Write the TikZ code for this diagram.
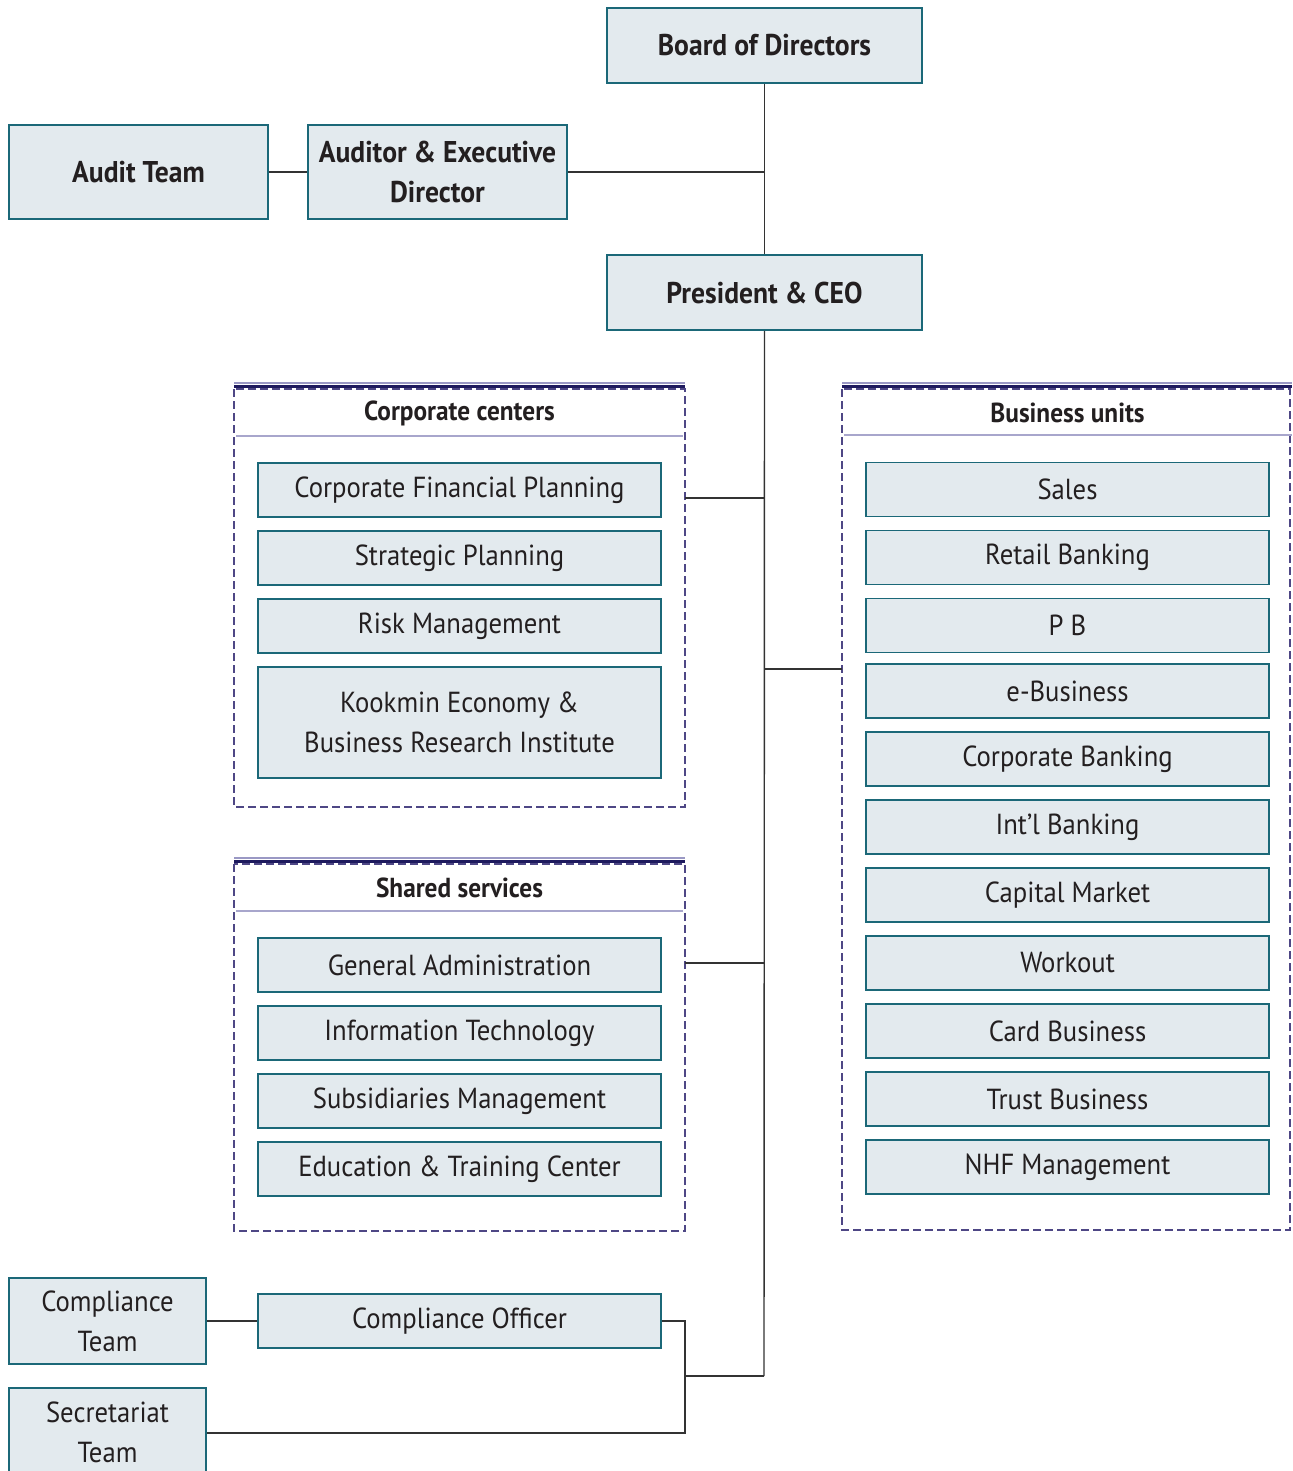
\documentclass[tikz,border=0pt]{standalone}
\usepackage{fontspec}
\setmainfont{PT Sans}[FakeStretch=0.92]
\definecolor{boxfill}{HTML}{E3EAEE}
\definecolor{boxline}{HTML}{1B6878}
\definecolor{dashc}{HTML}{4E4785}
\definecolor{navy}{HTML}{1E1A5E}
\definecolor{lightnavy}{HTML}{9A98C4}
\definecolor{sepc}{HTML}{A8A6CC}
\definecolor{txt}{HTML}{231F20}
\definecolor{conn}{HTML}{333333}
\tikzset{
  box/.style={draw=boxline, fill=boxfill, line width=1.8pt, inner sep=0pt, align=center,
    text=txt, font=\fontsize{29}{40}\selectfont},
  topbox/.style={box, font=\fontsize{30}{40}\selectfont\bfseries},
  item/.style={box, minimum width=403pt, minimum height=54pt},
  grp/.style={draw=dashc, line width=2.4pt, dash pattern=on 8pt off 4pt},
  hdr/.style={text=txt, font=\fontsize{27.5}{30}\selectfont\bfseries, inner sep=0pt},
  conline/.style={draw=conn, line width=1.4pt},
}
\begin{document}
\begin{tikzpicture}[x=1pt,y=-1pt]
\clip (0,0) rectangle (1292,1471);
\useasboundingbox (0,0) rectangle (1292,1471);
\fill[white] (0,0) rectangle (1292,1471);

% top boxes
\node[topbox, minimum width=315pt, minimum height=75pt] (board) at (764.5,45.5) {Board of Directors};
\node[topbox, minimum width=315pt, minimum height=75pt] (pres) at (764.5,292.5) {President \& CEO};
\node[topbox, minimum width=259pt, minimum height=94pt] (audit) at (138.5,172) {Audit Team};
\node[topbox, minimum width=259pt, minimum height=94pt] (auditor) at (437.5,172) {Auditor \& Executive\\Director};

% group frames
\draw[grp] (234,389) rectangle (685,807);
\draw[lightnavy, line width=1.2pt] (234,383) -- (685,383);
\draw[navy, line width=3.6pt] (234,386.5) -- (685,386.5);
\draw[sepc, line width=1.3pt] (236,436) -- (683,436);
\node[hdr] (cchdr) at (459.5,413) {Corporate centers};

\draw[grp] (234,864) rectangle (685,1231);
\draw[lightnavy, line width=1.2pt] (234,858) -- (685,858);
\draw[navy, line width=3.6pt] (234,861.5) -- (685,861.5);
\draw[sepc, line width=1.3pt] (236,911) -- (683,911);
\node[hdr] (sshdr) at (459.5,888) {Shared services};

\draw[grp] (842,389) rectangle (1290,1230);
\draw[lightnavy, line width=1.2pt] (842,383) -- (1292,383);
\draw[navy, line width=3.6pt] (842,386.5) -- (1292,386.5);
\draw[sepc, line width=1.3pt] (844,435) -- (1292,435);
\node[hdr] (buhdr) at (1067.5,413) {Business units};

% corporate centers items
\node[item] (cfp) at (459.5,490) {Corporate Financial Planning};
\node[item] (sp) at (459.5,558) {Strategic Planning};
\node[item] (rm) at (459.5,626) {Risk Management};
\node[item, minimum height=111pt] (keb) at (459.5,722.5) {Kookmin Economy \&\\Business Research Institute};

% shared services items
\node[item] (ga) at (459.5,965) {General Administration};
\node[item] (it) at (459.5,1033) {Information Technology};
\node[item] (sm) at (459.5,1101) {Subsidiaries Management};
\node[item] (etc) at (459.5,1169) {Education \& Training Center};

% business units items
\node[item] (sales) at (1067.5,489.5) {Sales};
\node[item] (retail) at (1067.5,557.5) {Retail Banking};
\node[item] (pb) at (1067.5,625.5) {P B};
\node[item] (eb) at (1067.5,691) {e-Business};
\node[item] (cb) at (1067.5,759) {Corporate Banking};
\node[item] (ib) at (1067.5,827) {Int'l Banking};
\node[item] (cm) at (1067.5,895) {Capital Market};
\node[item] (wo) at (1067.5,963) {Workout};
\node[item] (card) at (1067.5,1031) {Card Business};
\node[item] (trust) at (1067.5,1099) {Trust Business};
\node[item] (nhf) at (1067.5,1167) {NHF Management};

% bottom
\node[item] (co) at (459.5,1321) {Compliance Officer};
\node[box, minimum width=197pt, minimum height=86pt] (ct) at (107.5,1321) {Compliance\\Team};
\node[box, minimum width=197pt, minimum height=88pt] (st) at (107.5,1432) {Secretariat\\Team};

% connector coordinates
\coordinate (trunkEnd) at (764,1376);
\coordinate (jA) at (764,172);
\coordinate (jCC) at (764,498);
\coordinate (jBU) at (764,669);
\coordinate (jSS) at (764,963);
\coordinate (ccR) at (685,498);
\coordinate (buL) at (842,669);
\coordinate (ssR) at (685,963);
\coordinate (bj) at (685,1376);

% connectors
\draw[conline] (board.south) -- (pres.north);
\draw[conline] (pres.south) -- (trunkEnd);
\draw[conline] (auditor.east) -- (jA);
\draw[conline] (audit.east) -- (auditor.west);
\draw[conline] (ccR) -- (jCC);
\draw[conline] (jBU) -- (buL);
\draw[conline] (ssR) -- (jSS);
\draw[conline] (ct.east) -- (co.west);
\draw[conline] (co.east) -| (bj);
\draw[conline] (bj) -- (trunkEnd);
\draw[conline] (bj) |- (st.east |- 0,1433);
\end{tikzpicture}
\end{document}
